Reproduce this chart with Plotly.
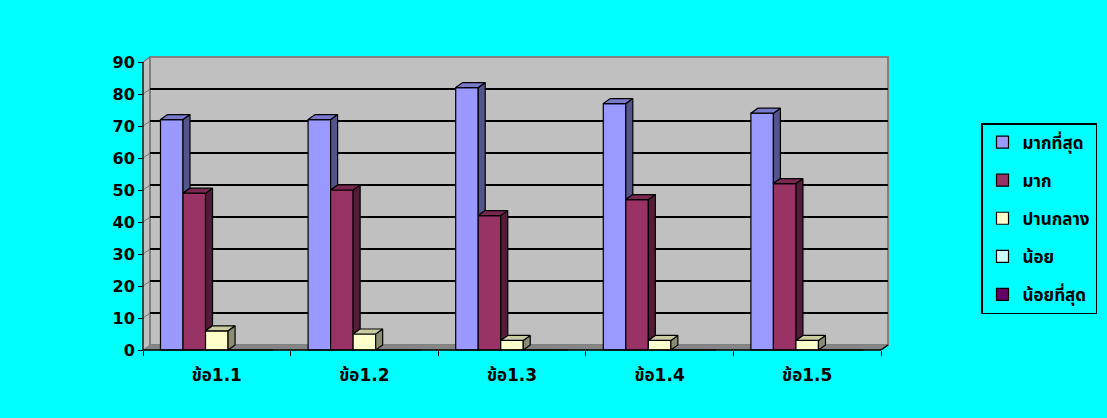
import plotly.graph_objects as go

# ---- data -------------------------------------------------------------
categories = ["ข้อ1.1", "ข้อ1.2", "ข้อ1.3", "ข้อ1.4", "ข้อ1.5"]
series_names = ["มากที่สุด", "มาก", "ปานกลาง", "น้อย", "น้อยที่สุด"]
most = [72, 72, 82, 77, 74]
much = [49, 50, 42, 47, 52]
medium = [6, 5, 3, 3, 3]
little = [0, 0, 0, 0, 0]
least = [0, 0, 0, 0, 0]
y_ticks = [0, 10, 20, 30, 40, 50, 60, 70, 80, 90]

series_values = [most, much, medium, little, least]
front_colors = ["#9999FF", "#993366", "#FFFFCC", "#CCFFFF", "#660066"]

# ---- geometry of the pseudo-3D box (pixels) ----------------------------
FIG_W, FIG_H = 1107, 418
X0_PX, Y0_PX = 143, 350          # front-left-bottom corner
CAT_PX = 147.6                   # width of one category slot
UNIT_PX = 3.2                    # pixels per value unit
DEPTH_X, DEPTH_Y = 7, 5          # depth offset of the back wall
PAD = 4
Y_MAX = 90

L = X0_PX - PAD
R = X0_PX + len(categories) * CAT_PX + DEPTH_X + PAD
T = Y0_PX - Y_MAX * UNIT_PX - DEPTH_Y - PAD
B = Y0_PX + PAD

x_lo = -0.5 - PAD / CAT_PX
x_hi = -0.5 + (R - X0_PX) / CAT_PX
y_lo = -PAD / UNIT_PX
y_hi = (Y0_PX - T) / UNIT_PX

dxu = DEPTH_X / CAT_PX
dyu = DEPTH_Y / UNIT_PX
x_left = -0.5
x_right = len(categories) - 0.5

BARGAP = 0.237
n_series = len(series_names)
group_w = 1 - BARGAP
bar_w = group_w / n_series


def shade(hex_color, k):
    h = hex_color.lstrip("#")
    r, g, b = (int(h[i:i + 2], 16) for i in (0, 2, 4))
    return "#%02X%02X%02X" % (int(r * k), int(g * k), int(b * k))


fig = go.Figure()

# bar fronts
for s, (name, vals, col) in enumerate(zip(series_names, series_values, front_colors)):
    fig.add_trace(go.Bar(
        x=list(range(len(categories))), y=vals, name=name,
        marker=dict(color=col, line=dict(color="black", width=1.2)),
        legendgroup=name, hoverinfo="skip",
    ))

# side and top faces, only the parts not hidden by the neighbouring bar
for s, (vals, col) in enumerate(zip(series_values, front_colors)):
    side_x, side_y, top_x, top_y = [], [], [], []
    for c, v in enumerate(vals):
        if v <= 0:
            continue
        nxt = series_values[s + 1][c] if s + 1 < n_series else 0
        x0 = c - group_w / 2 + s * bar_w
        x1 = x0 + bar_w
        lo = min(max(nxt, 0), v)
        side_x += [x1, x1, x1 + dxu, x1 + dxu, x1, None]
        side_y += [lo, v, v + dyu, lo + dyu, lo, None]
        top_x += [x0, x1, x1 + dxu, x0 + dxu, x0, None]
        top_y += [v, v, v + dyu, v + dyu, v, None]
    if side_x:
        fig.add_trace(go.Scatter(
            x=side_x, y=side_y, mode="lines", fill="toself",
            fillcolor=shade(col, 0.55), line=dict(color="black", width=1.2),
            showlegend=False, hoverinfo="skip"))
        fig.add_trace(go.Scatter(
            x=top_x, y=top_y, mode="lines", fill="toself",
            fillcolor=shade(col, 0.8), line=dict(color="black", width=1.2),
            showlegend=False, hoverinfo="skip"))

shapes = []
# left wall
shapes.append(dict(type="path", xref="x", yref="y", layer="below",
                   path=f"M{x_left},0 L{x_left + dxu},{dyu} L{x_left + dxu},{Y_MAX + dyu} L{x_left},{Y_MAX} Z",
                   fillcolor="#C0C0C0", line=dict(color="#808080", width=1)))
# back wall
shapes.append(dict(type="rect", xref="x", yref="y", layer="below",
                   x0=x_left + dxu, x1=x_right + dxu, y0=dyu, y1=Y_MAX + dyu,
                   fillcolor="#C0C0C0", line=dict(color="#808080", width=2)))
# floor
shapes.append(dict(type="path", xref="x", yref="y", layer="below",
                   path=f"M{x_left},0 L{x_left + dxu},{dyu} L{x_right + dxu},{dyu} L{x_right},0 Z",
                   fillcolor="#858585", line=dict(width=0)))
# gridlines on back wall and their diagonal on the left wall
for v in y_ticks[1:]:
    if v < Y_MAX:
        shapes.append(dict(type="line", xref="x", yref="y", layer="below",
                           x0=x_left + dxu, x1=x_right + dxu, y0=v + dyu, y1=v + dyu,
                           line=dict(color="black", width=2)))
    shapes.append(dict(type="line", xref="x", yref="y", layer="below",
                       x0=x_left, x1=x_left + dxu, y0=v, y1=v + dyu,
                       line=dict(color="#707070", width=1)))
# front edges
shapes.append(dict(type="line", xref="x", yref="y", layer="above",
                   x0=x_left, x1=x_left, y0=0, y1=Y_MAX, line=dict(color="black", width=1.2)))
shapes.append(dict(type="line", xref="x", yref="y", layer="above",
                   x0=x_left, x1=x_right, y0=0, y1=0, line=dict(color="black", width=1.5)))
shapes.append(dict(type="line", xref="x", yref="y", layer="above",
                   x0=x_right, x1=x_right + dxu, y0=0, y1=dyu, line=dict(color="black", width=1.5)))

FONT = "DejaVu Sans, Tahoma, 'Noto Sans Thai', Loma, Garuda, sans-serif"

fig.update_layout(
    width=FIG_W, height=FIG_H,
    margin=dict(l=L, r=FIG_W - R, t=T, b=FIG_H - B, pad=0),
    paper_bgcolor="#00FFFF", plot_bgcolor="rgba(0,0,0,0)",
    barmode="group", bargap=BARGAP, bargroupgap=0,
    shapes=shapes,
    showlegend=True,
    legend=dict(
        xref="container", yref="container", x=981 / FIG_W, y=1 - 123 / FIG_H,
        xanchor="left", yanchor="top",
        bgcolor="rgba(0,0,0,0)", bordercolor="black", borderwidth=1.5,
        font=dict(family=FONT, size=17, color="black", weight="bold"),
        tracegroupgap=13, traceorder="grouped", itemwidth=30,
    ),
    xaxis=dict(
        range=[x_lo, x_hi], anchor="free", position=PAD / (B - T),
        showgrid=False, zeroline=False, showline=False,
        tickmode="array", tickvals=list(range(len(categories))), ticktext=categories,
        ticks="", ticklabelstandoff=13,
        minor=dict(tickmode="array", tickvals=[i - 0.5 for i in range(len(categories) + 1)],
                   ticks="outside", ticklen=5, tickcolor="black", showgrid=False),
        tickfont=dict(family=FONT, size=17, color="black", weight="bold"),
        fixedrange=True,
    ),
    yaxis=dict(
        range=[y_lo, y_hi], anchor="free", position=PAD / (R - L),
        showgrid=False, zeroline=False, showline=False,
        tickmode="array", tickvals=y_ticks,
        ticks="outside", ticklen=5, tickcolor="black",
        tickfont=dict(family=FONT, size=16, color="black", weight="bold"),
        fixedrange=True,
    ),
)

fig.write_html("out.html")
